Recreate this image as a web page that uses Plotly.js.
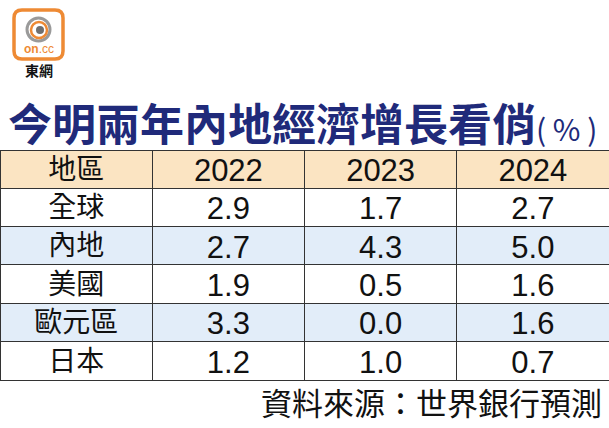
<!DOCTYPE html>
<html>
<head>
<meta charset="utf-8">
<script src="https://cdn.plot.ly/plotly-3.0.1.min.js"></script>
<style>
html,body{margin:0;padding:0;background:#fff;}
#chart{width:609px;height:428px;}
</style>
</head>
<body>
<div id="chart"></div>
<script>
// ---- data ----
var headers = ["地區", "2022", "2023", "2024"];
var regions = ["全球", "內地", "美國", "歐元區", "日本"];
var v2022 = [2.9, 2.7, 1.9, 3.3, 1.2];
var v2023 = [1.7, 4.3, 0.5, 0.0, 1.0];
var v2024 = [2.7, 5.0, 1.6, 1.6, 0.7];
var titleText = "今明兩年內地經濟增長看俏";
var titleUnit = "( % )";
var sourceText = "資料來源：世界銀行預測";
var logoText = "東網";

// ---- layout helpers (pixel -> paper) ----
var W = 609, H = 428;
function px(x){ return x / W; }
function py(y){ return 1 - y / H; }

var BLUE = "#e2edf9", PEACH = "#fbe4c2", NAVY = "#202a7a";
var rowFill = regions.map(function(_, i){ return i % 2 === 1 ? BLUE : "#ffffff"; });

var cjk = "Liberation Sans, Arial, 'Noto Sans CJK TC', sans-serif";
var colSizes = [28, 31, 31, 31];

var trace = {
  type: "table",
  domain: { x: [px(-1), px(611)], y: [py(381), py(150)] },
  columnwidth: [1, 1, 1, 1],
  header: {
    values: headers,
    align: "center",
    height: 38,
    fill: { color: PEACH },
    line: { color: "#333333", width: 1 },
    font: { family: cjk, size: colSizes, color: "#111111" }
  },
  cells: {
    values: [regions, v2022, v2023, v2024],
    format: ["", ".1f", ".1f", ".1f"],
    align: "center",
    height: 38.4,
    fill: { color: [rowFill, rowFill, rowFill, rowFill] },
    line: { color: "#333333", width: 1 },
    font: { family: cjk, size: colSizes, color: "#111111" }
  }
};

function roundRect(x0, y0, x1, y1, r){
  return "M" + px(x0 + r) + "," + py(y0) +
    " L" + px(x1 - r) + "," + py(y0) +
    " Q" + px(x1) + "," + py(y0) + " " + px(x1) + "," + py(y0 + r) +
    " L" + px(x1) + "," + py(y1 - r) +
    " Q" + px(x1) + "," + py(y1) + " " + px(x1 - r) + "," + py(y1) +
    " L" + px(x0 + r) + "," + py(y1) +
    " Q" + px(x0) + "," + py(y1) + " " + px(x0) + "," + py(y1 - r) +
    " L" + px(x0) + "," + py(y0 + r) +
    " Q" + px(x0) + "," + py(y0) + " " + px(x0 + r) + "," + py(y0) + " Z";
}

var shapes = [
  { type: "path", xref: "paper", yref: "paper", path: roundRect(14, 10, 63, 59, 8),
    line: { color: "#ee8a34", width: 3.5 }, fillcolor: "#ffffff" },
  { type: "circle", xref: "paper", yref: "paper",
    x0: px(27), x1: px(50), y0: py(41), y1: py(18),
    line: { color: "#9a9a9a", width: 3 }, fillcolor: "rgba(0,0,0,0)" },
  { type: "circle", xref: "paper", yref: "paper",
    x0: px(31), x1: px(47), y0: py(38), y1: py(22),
    line: { color: "#ee8a34", width: 2.5 }, fillcolor: "#ffffff" },
  { type: "circle", xref: "paper", yref: "paper",
    x0: px(36), x1: px(44), y0: py(34), y1: py(26),
    line: { width: 0 }, fillcolor: "#6f6f6f" }
];

var annotations = [
  { xref: "paper", yref: "paper", x: px(6), y: py(122), xanchor: "left", yanchor: "middle",
    showarrow: false,
    text: "<b>" + titleText + "</b><span style='font-size:30px'>" + titleUnit + "</span>",
    font: { family: "'Noto Sans CJK TC', sans-serif", size: 44, color: NAVY } },
  { xref: "paper", yref: "paper", x: px(604), y: py(401), xanchor: "right", yanchor: "middle",
    showarrow: false, text: sourceText,
    font: { family: "'Noto Sans CJK TC', sans-serif", size: 31, color: "#111111" } },
  { xref: "paper", yref: "paper", x: px(38.5), y: py(49), xanchor: "center", yanchor: "middle",
    showarrow: false, text: "<b>on</b>.cc",
    font: { family: "Liberation Sans, Arial, sans-serif", size: 12, color: "#ee8a34" } },
  { xref: "paper", yref: "paper", x: px(38.5), y: py(70), xanchor: "center", yanchor: "middle",
    showarrow: false, text: "<b>" + logoText + "</b>",
    font: { family: "'Noto Sans CJK TC', sans-serif", size: 14, color: "#111111" } }
];

var layout = {
  width: W, height: H,
  margin: { l: 0, r: 0, t: 0, b: 0 },
  paper_bgcolor: "#ffffff",
  showlegend: false,
  shapes: shapes,
  annotations: annotations
};

Plotly.newPlot("chart", [trace], layout, { staticPlot: true, displayModeBar: false });
</script>
</body>
</html>
